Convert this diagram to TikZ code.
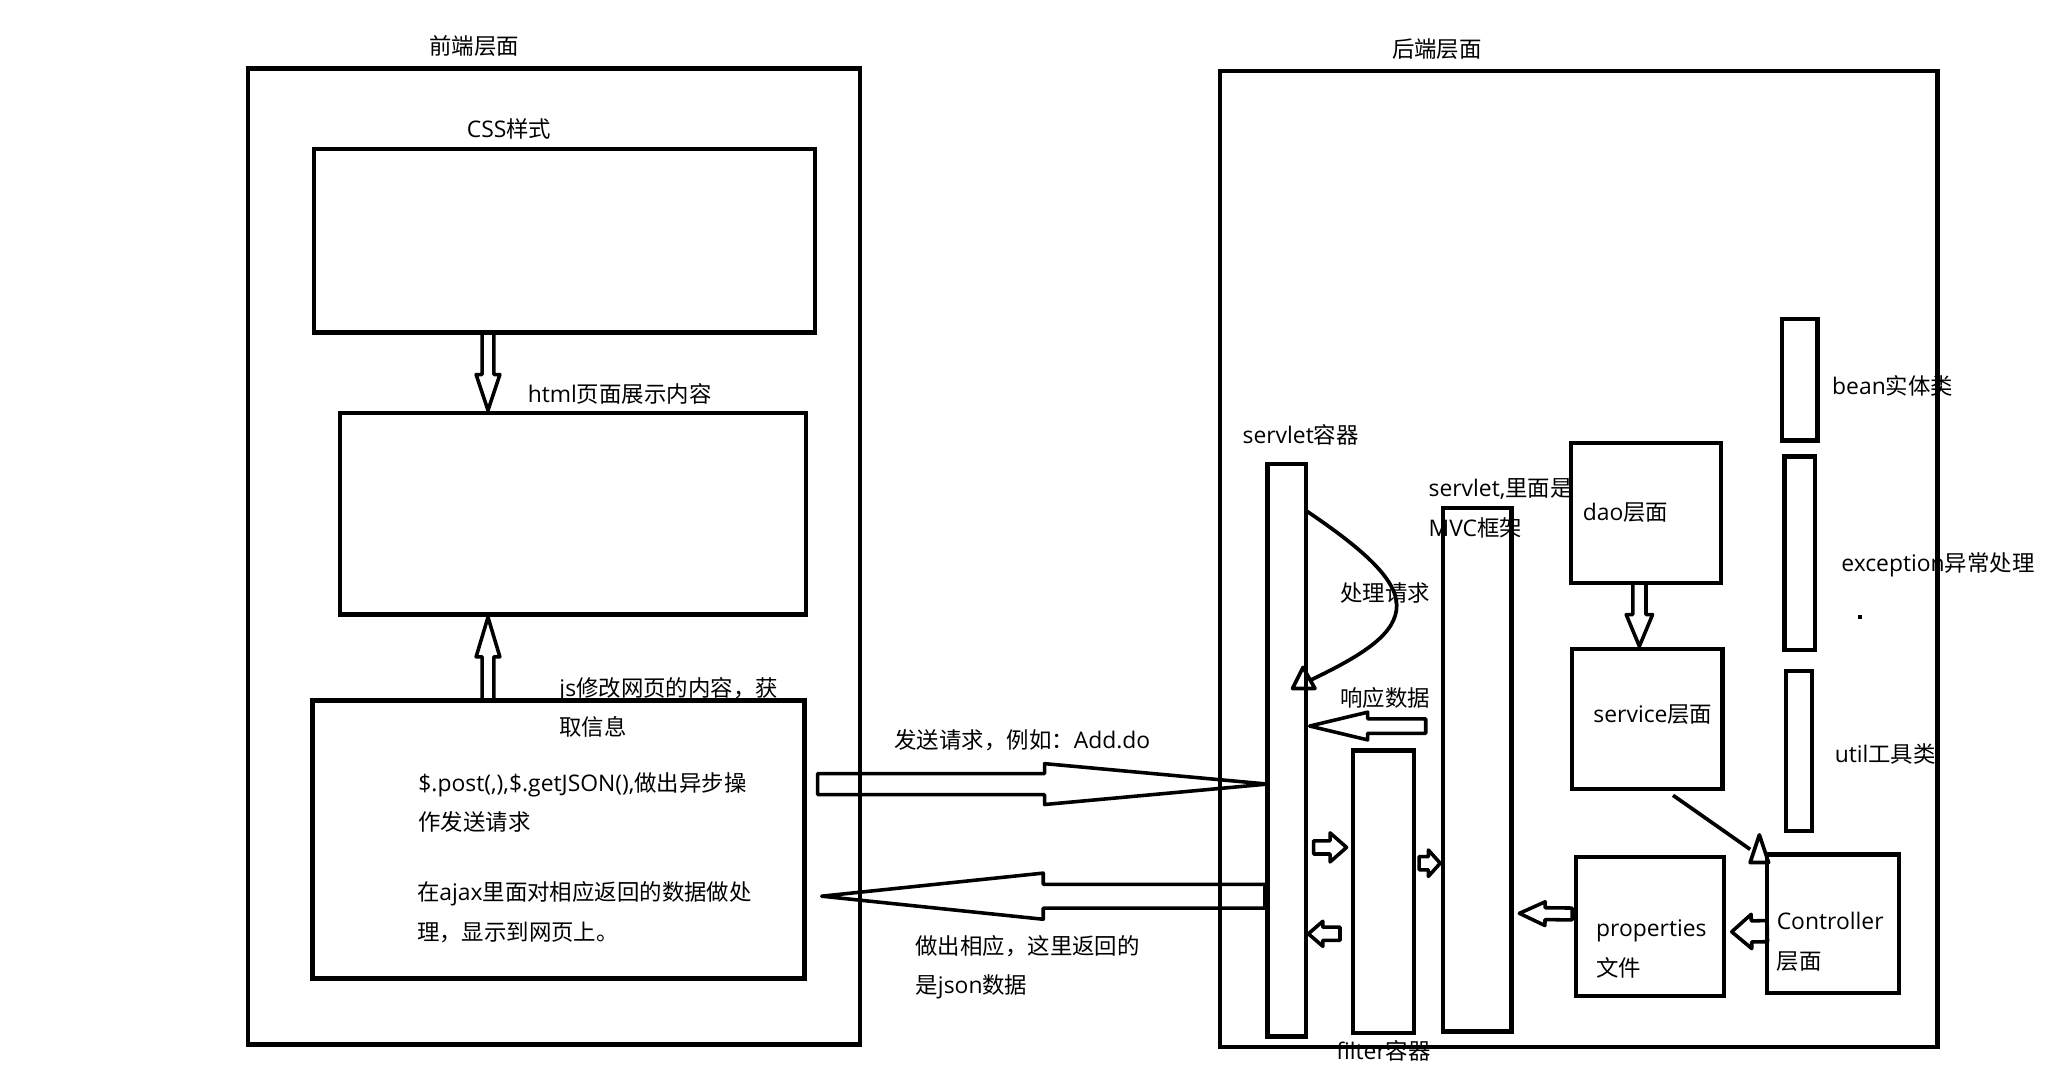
\documentclass[tikz,border=0pt]{standalone}
\usepackage{fontspec}
\setmainfont{Noto Sans CJK SC}
\newfontfamily\lat[Scale=1.02]{Open Sans}
\usetikzlibrary{calc}
\tikzset{
  box/.style={draw, line width=3.3pt, inner sep=0pt, outer sep=0pt},
  fat/.style={draw, line width=2.7pt, line join=round},
  conn/.style={line width=2.8pt, line join=round},
  lbl/.style={anchor=west, inner sep=0pt, align=left, yshift=-1.5pt, font=\fontsize{17}{30}\selectfont},
  ttl/.style={anchor=center, inner sep=0pt, yshift=-1pt, font=\fontsize{17}{30}\selectfont},
}
\newcommand\mkbox[5]{\node[box, minimum width=#4pt, minimum height=#5pt] (#1) at (#2,#3) {};}
% name, tail, tip, shaft half width, head half width, head length
\newcommand\fatarrow[6]{%
  \coordinate (#1-t) at #2;
  \coordinate (#1-p) at #3;
  \coordinate (#1-b) at ($(#1-p)!#6pt!(#1-t)$);
  \draw[fat] ($(#1-t)!#4pt!90:(#1-p)$) -- ($(#1-b)!#4pt!90:(#1-p)$)
    -- ($(#1-b)!#5pt!90:(#1-p)$) -- (#1-p) -- ($(#1-b)!#5pt!-90:(#1-p)$)
    -- ($(#1-b)!#4pt!-90:(#1-p)$) -- ($(#1-t)!#4pt!-90:(#1-p)$) -- cycle;
}
\begin{document}
\begin{tikzpicture}[x=1pt, y=-1pt]
\useasboundingbox (0,0) rectangle (1568,819);

% ---------- front ----------
\node[ttl] (fronttitle) at (359.5,34) {前端层面};
\mkbox{front}{420}{422}{464}{740}
\node[ttl] (csslbl) at (386,97) {{\lat CSS}样式};
\mkbox{css}{428}{182.5}{380}{139}
\node[lbl] (htmllbl) at (400,297) {{\lat html}页面展示内容};
\mkbox{html}{434.5}{389.5}{353}{153}
\mkbox{ajax}{423.5}{636.5}{373}{211}
\node[lbl] (jslbl) at (424,535) {{\lat js}修改网页的内容，获\\取信息};
\node[lbl] (postlbl) at (317,607) {{\lat \$.post(,),\$.getJSON(),}做出异步操\\作发送请求};
\node[lbl] (ajaxlbl) at (316,690) {在{\lat ajax}里面对相应返回的数据做处\\理，显示到网页上。};

\fatarrow{acss}{($(css.south)+(-58,0)$)}{($(html.north)+(-64.5,-2)$)}{4.5}{9}{27}
\fatarrow{ajs}{($(ajax.north)+(-53.5,0)$)}{($(html.south)+(-64.5,2)$)}{4.5}{9}{30}

% ---------- back ----------
\node[ttl] (backtitle) at (1089.5,36) {后端层面};
\mkbox{back}{1197}{424}{544}{740}
\node[lbl] (servletlbl) at (942,328) {{\lat servlet}容器};
\mkbox{servlet}{975.5}{569}{29}{434}
\mkbox{filter}{1049}{676}{46}{214}
\node[lbl] (filterlbl) at (1013,795) {{\lat filter}容器};
\mkbox{mvc}{1120}{583.5}{52}{397}
\node[lbl] (mvclbl) at (1083,384) {{\lat servlet,}里面是\\{\lat MVC}框架};
\mkbox{dao}{1248}{389}{114}{106}
\node[lbl] (daolbl) at (1200,387) {{\lat dao}层面};
\mkbox{service}{1249}{545}{114}{106}
\node[lbl] (servicelbl) at (1208,540) {{\lat service}层面};
\mkbox{properties}{1251}{702.5}{112}{105}
\node[lbl] (proplbl) at (1210,718) {{\lat properties}\\文件};
\mkbox{controller}{1390}{700.5}{100}{105}
\node[lbl] (ctrllbl) at (1347,712.5) {{\lat Controller}\\层面};
\mkbox{bean}{1364.5}{288}{27}{92}
\node[lbl] (beanlbl) at (1389,291) {{\lat bean}实体类};
\mkbox{exception}{1364.5}{419.5}{23}{147}
\node[lbl] (exclbl) at (1396,427) {{\lat exception}异常处理};
\fill (1408.5,466.5) rectangle (1411.5,469.5);
\mkbox{util}{1364}{569.5}{20}{121}
\node[lbl] (utillbl) at (1391,570) {{\lat util}工具类};

% processing curve
\coordinate (cs) at ($(servlet.north east)+(0,35)$);
\coordinate (ce) at (993,516);
\draw[conn] (cs) .. controls (1030,414) and (1059,438) .. (1059,459)
  .. controls (1059,480) and (1035,496) .. (ce);
\draw[conn] ($(ce)+(-5,-10)$) -- ($(ce)+(-13,6)$) -- ($(ce)+(4,6)$) -- cycle;
\node[lbl] (proclbl) at (1016,448) {处理请求};
\node[lbl] (resplbl) at (1016,528) {响应数据};

% service -> controller
\coordinate (sc1) at ($(service.south)+(19.5,5)$);
\coordinate (sc2) at ($(controller.north west)+(-13,-4)$);
\draw[conn] (sc1) -- (sc2);
\draw[conn] ($(controller.north west)+(-6,-15)$) -- ($(controller.north west)+(-13,6)$)
  -- ($(controller.north west)+(1,6)$) -- cycle;

% ---------- middle ----------
\node[lbl] (sendlbl) at (678,560) {发送请求，例如：{\lat Add.do}};
\node[lbl] (retlbl) at (694,732) {做出相应，这里返回的\\是{\lat json}数据};
\fatarrow{asend}{($(ajax.east)+(10,-42)$)}{($(servlet.west)+(0,25.5)$)}{8}{15.5}{169}
\fatarrow{aret}{($(servlet.west)+(-2,110.5)$)}{($(ajax.east)+(13,43)$)}{9}{17.5}{168}

\fatarrow{aresp}{($(mvc.west)+(-13,-33)$)}{($(servlet.east)+(3,-18.5)$)}{5.5}{10.5}{44}
\fatarrow{af1}{($(servlet.east)+(6,73.5)$)}{($(filter.west)+(-5,-33.5)$)}{5}{11}{12.5}
\fatarrow{af2}{($(filter.east)+(4,-21.5)$)}{($(mvc.west)+(-2,71)$)}{5}{10}{9}
\fatarrow{af3}{($(filter.west)+(-10,32)$)}{($(servlet.east)+(2,139)$)}{5}{9.5}{11}
\fatarrow{adao}{($(dao.south)+(-5,0)$)}{($(service.north)+(-6,-2)$)}{5}{10}{24}
\fatarrow{aprop}{($(properties.west)+(-3,-9.5)$)}{($(mvc.east)+(6,109)$)}{4.5}{9}{19.5}
\fatarrow{actrl}{($(controller.west)+(0,5.5)$)}{($(properties.east)+(6,4)$)}{8}{13}{15}
\end{tikzpicture}
\end{document}
